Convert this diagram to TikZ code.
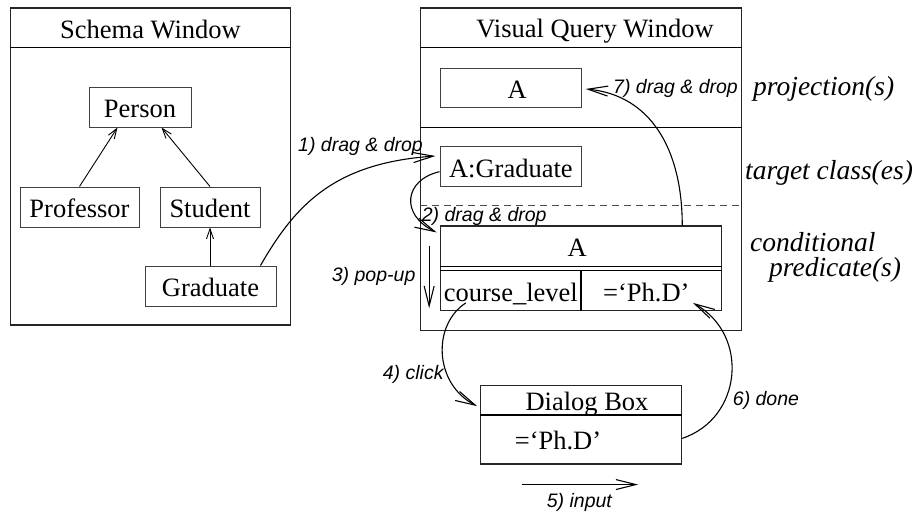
\documentclass[tikz,border=0pt]{standalone}
\usepackage{fontspec}
\setmainfont{Liberation Serif}
\newfontfamily\notesans{Liberation Sans}
\usetikzlibrary{arrows.meta}
\begin{document}
\begin{tikzpicture}[x=1pt,y=-1pt,
  serif/.style={font=\fontsize{26.5}{30}\selectfont},
  classbox/.style={draw=black!75, line width=1pt, inner sep=0pt, serif,
    text height=21pt, text depth=0pt},
  cell/.style={inner sep=0pt, serif, text height=21pt, text depth=0pt},
  frame/.style={draw=black!85, line width=1.3pt, inner sep=0pt},
  divider/.style={draw=black, line width=1.5pt},
  txt/.style={serif, inner sep=0pt, anchor=base},
  side/.style={font=\fontsize{27.5}{30}\selectfont\itshape, inner sep=0pt, anchor=base west},
  actlabel/.style={font=\notesans\fontsize{19.5}{22}\selectfont\itshape, inner sep=0pt, anchor=base west},
  conn/.style={line width=1.1pt, -{Straight Barb[length=20pt,width=10pt]}},
  isa/.style={line width=0.9pt, -{Straight Barb[length=10pt,width=7pt]}},
]
\useasboundingbox (0,0) rectangle (918,514);

% ---------- schema window ----------
\node[frame, minimum width=280pt, minimum height=317pt] (schema) at (150.7,166.5) {};
\draw[divider] ([shift={(0,40)}]schema.north west) -- ([shift={(0,40)}]schema.north east);
\node[txt] (schematitle) at (150.5,38) {Schema Window};

\node[classbox, minimum width=102pt, minimum height=40pt] (person)  at (140,107)   {Person};
\node[classbox, minimum width=119pt, minimum height=40pt] (prof)    at (79.5,207)  {Professor};
\node[classbox, minimum width=100pt, minimum height=40pt] (student) at (210,207)   {Student};
\node[classbox, minimum width=131pt, minimum height=40pt] (grad)    at (210.5,286) {Graduate};

\draw[isa] (prof.north) -- ([shift={(29,0)}]person.south west);
\draw[isa] (student.north) -- ([shift={(-30,0)}]person.south east);
\draw[isa] (student.south |- grad.north) -- (student.south);

% ---------- visual query window ----------
\node[frame, minimum width=321pt, minimum height=322.7pt] (vqw) at (581.2,169.35) {};
\draw[divider] ([shift={(0,40)}]vqw.north west) -- ([shift={(0,40)}]vqw.north east);
\draw[line width=1.2pt] ([shift={(0,120)}]vqw.north west) -- ([shift={(0,120)}]vqw.north east);
\draw[black!70, line width=1pt, dash pattern=on 7pt off 5pt]
  ([shift={(0,198)}]vqw.north west) -- ([shift={(0,198)}]vqw.north east);
\node[txt] (vqwtitle) at (595,37.5) {Visual Query Window};

% projection
\node[classbox, minimum width=141pt, minimum height=39pt] (proj) at (511.2,87.5) {\hspace*{12pt}A};
% target class
\node[classbox, minimum width=141.7pt, minimum height=40pt] (agrad) at (510.85,166.7) {A:Graduate};

% conditional predicate table
\node[draw=black!85, line width=1.1pt, inner sep=0pt, minimum width=281pt, minimum height=84.7pt]
  (pred) at (581.2,268.35) {};
\node[cell, minimum width=281pt, minimum height=40.7pt] (predhead) at (581.2,246.35) {A\hspace*{8pt}};
\draw[line width=1pt] ([shift={(0,40.7)}]pred.north west) -- ([shift={(0,40.7)}]pred.north east);
\draw[line width=1pt] ([shift={(0,45)}]pred.north west) -- ([shift={(0,45)}]pred.north east);
\node[cell, minimum width=140.3pt, minimum height=39.7pt] (course) at (510.85,290.85) {course\_level};
\node[cell, minimum width=140.7pt, minimum height=39.7pt] (value)  at (651.35,290.85) {=‘Ph.D’\hspace*{10pt}};
\draw[line width=2pt] (course.north east) -- (course.south east);

% side captions
\node[side] (capproj) at (753,95)  {projection(s)};
\node[side] (captarget) at (745,179) {target class(es)};
\node[side] (capcond) at (750,251) {conditional};
\node[side] (cappred) at (769,276) {predicate(s)};

% ---------- dialog box ----------
\node[draw=black!85, line width=1.1pt, inner sep=0pt, minimum width=201pt, minimum height=78.3pt]
  (dialog) at (581.2,424.85) {};
\draw[line width=2pt] ([shift={(0,30)}]dialog.north west) -- ([shift={(0,30)}]dialog.north east);
\node[txt] (dlgtitle) at (587,410) {Dialog Box};
\node[txt] (dlgvalue) at (558,449) {=‘Ph.D’};

% ---------- interaction steps ----------
% 1) drag the class into the target area
\draw[conn] ([shift={(-16,0)}]grad.north east)
  .. controls +(35,-61) and +(-101,7) .. ([shift={(-4,-10.7)}]agrad.west);
\node[actlabel] (l1) at (298,151.5) {1) drag \& drop};

% 2) drag the target class into the predicate area
\draw[conn] ([shift={(0,5)}]agrad.west)
  .. controls +(-35,8) and +(-37,-18) .. ([shift={(-3.5,7)}]pred.north west);
\node[actlabel] (l2) at (421.7,221) {2) drag \& drop};

% 3) pop-up of the attribute list
\coordinate (popA) at ([shift={(-11,21)}]pred.north west);
\coordinate (popB) at ([shift={(-11,-3)}]pred.south west);
\draw[conn] (popA) -- (popB);
\node[actlabel] (l3) at (331.7,281.7) {3) pop-up};

% 4) click on the attribute
\draw[conn] ([shift={(-45,-8)}]course.south)
  .. controls +(-34,22) and +(-43,-22) .. ([shift={(-3,21)}]dialog.north west);
\node[actlabel] (l4) at (382.7,379.3) {4) click};

% 5) input of the value
\coordinate (inA) at ([shift={(-59.5,20)}]dialog.south);
\coordinate (inB) at ([shift={(57,20)}]dialog.south);
\draw[conn] (inA) -- (inB);
\node[actlabel] (l5) at (546.7,507.5) {5) input};

% 6) done: the value goes back to the predicate
\draw[conn] ([shift={(0,13.5)}]dialog.east)
  .. controls +(60,-20) and +(57,32) .. ([shift={(-29,-8)}]value.south east);
\node[actlabel] (l6) at (732.7,405) {6) done};

% 7) drag the predicate result into the projection
\draw[conn] ([shift={(-40,0)}]pred.north east)
  .. controls +(0,-76) and +(65,6) .. ([shift={(3.5,1.5)}]proj.east);
\node[actlabel] (l7) at (613,93.3) {7) drag \& drop};

\end{tikzpicture}
\end{document}
